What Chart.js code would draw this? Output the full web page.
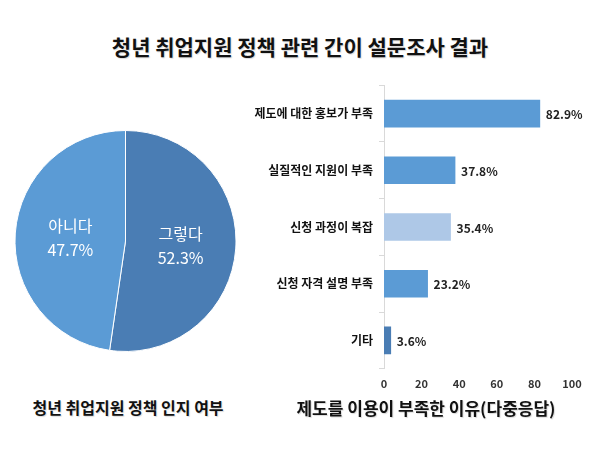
<!DOCTYPE html>
<html>
<head>
<meta charset="utf-8">
<script src="https://cdn.jsdelivr.net/npm/chart.js@4"></script>
<style>
  body { margin: 0; background: #fff; font-family: "Noto Sans CJK KR", sans-serif; }
  #wrap { position: relative; width: 600px; height: 450px; }
  .txt { position: absolute; font-weight: bold; color: #111; white-space: nowrap; transform: translate(-50%, -50%); text-shadow: 1px 1px 1px rgba(0,0,0,0.15); }
  #pieBox { position: absolute; left: 14px; top: 130px; width: 223px; height: 222px; }
  #barBox { position: absolute; left: 230px; top: 72px; width: 370px; height: 318px; }
</style>
</head>
<body>
<div id="wrap">
  <div class="txt" style="left:300px; top:46px; font-size:21px;">청년 취업지원 정책 관련 간이 설문조사 결과</div>
  <div id="pieBox"><canvas id="pieChart"></canvas></div>
  <div id="barBox"><canvas id="barChart"></canvas></div>
  <div class="txt" style="left:128px; top:407px; font-size:16px;">청년 취업지원 정책 인지 여부</div>
  <div class="txt" style="left:426px; top:407px; font-size:17px;">제도를 이용이 부족한 이유(다중응답)</div>
</div>
<script>
const pieLabels = ['그렇다', '아니다'];
const pieValues = [52.3, 47.7];
const pieColors = ['#4a7db4', '#5b9bd5'];

const reasonLabels = ['제도에 대한 홍보가 부족', '실질적인 지원이 부족', '신청 과정이 복잡', '신청 자격 설명 부족', '기타'];
const reasonValues = [82.9, 37.8, 35.4, 23.2, 3.6];
const reasonColors = ['#5b9bd5', '#5b9bd5', '#aec8e7', '#5b9bd5', '#4a7db4'];
const xTicks = [0, 20, 40, 60, 80, 100];

const fontFamily = '"Noto Sans CJK KR", sans-serif';

// labels inside the pie slices
const pieLabelPlugin = {
  id: 'pieLabels',
  afterDatasetsDraw(chart) {
    const ctx = chart.ctx;
    chart.getDatasetMeta(0).data.forEach((arc, i) => {
      const pos = arc.tooltipPosition();
      ctx.save();
      ctx.fillStyle = '#fff';
      ctx.font = '16px ' + fontFamily;
      ctx.textAlign = 'center';
      ctx.textBaseline = 'middle';
      ctx.fillText(pieLabels[i], pos.x, pos.y - 11);
      ctx.fillText(pieValues[i].toFixed(1) + '%', pos.x, pos.y + 13);
      ctx.restore();
    });
  }
};

// value labels at the end of each bar
const barLabelPlugin = {
  id: 'barLabels',
  afterDatasetsDraw(chart) {
    const ctx = chart.ctx;
    chart.getDatasetMeta(0).data.forEach((bar, i) => {
      ctx.save();
      ctx.fillStyle = '#222';
      ctx.font = 'bold 12px ' + fontFamily;
      ctx.textAlign = 'left';
      ctx.textBaseline = 'middle';
      ctx.fillText(reasonValues[i].toFixed(1) + '%', bar.x + 6, bar.y + 1);
      ctx.restore();
    });
  }
};

new Chart(document.getElementById('pieChart'), {
  type: 'pie',
  data: {
    labels: pieLabels,
    datasets: [{
      data: pieValues,
      backgroundColor: pieColors,
      borderColor: '#fff',
      borderWidth: 1
    }]
  },
  options: {
    responsive: true,
    maintainAspectRatio: false,
    animation: false,
    layout: { padding: 0 },
    plugins: { legend: { display: false }, tooltip: { enabled: false } }
  },
  plugins: [pieLabelPlugin]
});

new Chart(document.getElementById('barChart'), {
  type: 'bar',
  data: {
    labels: reasonLabels,
    datasets: [{
      data: reasonValues,
      backgroundColor: reasonColors,
      barThickness: 27
    }]
  },
  options: {
    indexAxis: 'y',
    responsive: true,
    maintainAspectRatio: false,
    animation: false,
    layout: { padding: { top: 4, right: 28 } },
    plugins: { legend: { display: false }, tooltip: { enabled: false } },
    scales: {
      x: {
        min: 0,
        max: 100,
        afterBuildTicks(scale) { scale.ticks = xTicks.map(v => ({ value: v })); },
        grid: { display: false },
        border: { display: false },
        ticks: { color: '#333', font: { family: fontFamily, size: 11, weight: 'bold' }, padding: 0 }
      },
      y: {
        afterFit(scale) { scale.width = 154; },
        grid: { drawOnChartArea: false, color: '#d9d9d9', tickLength: 5 },
        border: { color: '#d9d9d9' },
        ticks: { color: '#111', font: { family: fontFamily, size: 12, weight: 'bold' }, padding: 6 }
      }
    }
  },
  plugins: [barLabelPlugin]
});
</script>
</body>
</html>
